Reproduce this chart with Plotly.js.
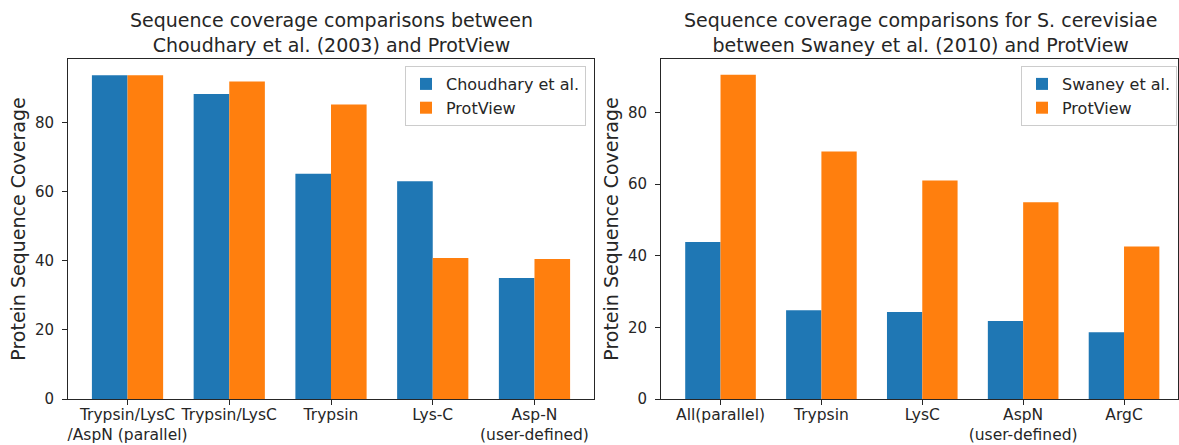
<!DOCTYPE html>
<html>
<head>
<meta charset="utf-8">
<script src="https://cdn.plot.ly/plotly-3.0.1.min.js"></script>
<style>html,body{margin:0;padding:0;background:#fff;}#chart{width:1179px;height:445px;}</style>
</head>
<body>
<div id="chart"></div>
<script>
// Left chart data
const leftCategories = ["Trypsin/LysC<br>/AspN (parallel)", "Trypsin/LysC", "Trypsin", "Lys-C", "Asp-N<br>(user-defined)"];
const choudharyValues = [93.7, 88.3, 65.2, 63.0, 35.0];
const protviewLeftValues = [93.7, 91.9, 85.2, 40.8, 40.5];

// Right chart data
const rightCategories = ["All(parallel)", "Trypsin", "LysC", "AspN<br>(user-defined)", "ArgC"];
const swaneyValues = [43.8, 24.8, 24.3, 21.8, 18.6];
const protviewRightValues = [90.5, 69.1, 61.0, 54.9, 42.6];

const yTicks = [0, 20, 40, 60, 80];

const leftTitle = "Sequence coverage comparisons between<br>Choudhary et al. (2003) and ProtView";
const rightTitle = "Sequence coverage comparisons for S. cerevisiae<br>between Swaney et al. (2010) and ProtView";
const yLabel = "Protein Sequence Coverage";

const W = 1179, H = 445;
const blue = "#1f77b4", orange = "#ff7f0e";
const font = "DejaVu Sans, sans-serif";
const ink = "#262626";

function idx(a){ return a.map((_, i) => i); }

const traces = [
  {type: "bar", x: idx(leftCategories), y: choudharyValues, name: "Choudhary et al.", marker: {color: blue}, xaxis: "x", yaxis: "y", legend: "legend", width: 0.35, offset: -0.35},
  {type: "bar", x: idx(leftCategories), y: protviewLeftValues, name: "ProtView", marker: {color: orange}, xaxis: "x", yaxis: "y", legend: "legend", width: 0.35, offset: 0},
  {type: "bar", x: idx(rightCategories), y: swaneyValues, name: "Swaney et al.", marker: {color: blue}, xaxis: "x2", yaxis: "y2", legend: "legend2", width: 0.35, offset: -0.35},
  {type: "bar", x: idx(rightCategories), y: protviewRightValues, name: "ProtView", marker: {color: orange}, xaxis: "x2", yaxis: "y2", legend: "legend2", width: 0.35, offset: 0}
];

const px = v => v / W, py = v => 1 - v / H;
const yDom = [py(399), py(59)];

const axisCommon = {
  showline: true, mirror: true, linecolor: ink, linewidth: 1,
  ticks: "outside", ticklen: 5, tickcolor: ink, tickwidth: 1,
  showgrid: false, zeroline: false, fixedrange: true
};
const xTickFont = {family: font, size: 15.5, color: ink};
const yTickFont = {family: font, size: 15, color: ink};
const yTitleFont = {family: font, size: 19, color: ink};

const legendCommon = {
  xanchor: "right", y: py(66), yanchor: "top",
  bgcolor: "rgba(255,255,255,0.8)", bordercolor: "#cccccc", borderwidth: 1,
  font: {family: font, size: 16, color: ink}, tracegroupgap: 0, itemwidth: 30
};

const layout = {
  width: W, height: H,
  margin: {l: 0, r: 0, t: 0, b: 0},
  paper_bgcolor: "#fff", plot_bgcolor: "#fff",
  showlegend: true,
  barmode: "overlay",
  font: {family: font, color: ink},
  xaxis: Object.assign({}, axisCommon, {domain: [px(68), px(594)], range: [-0.585, 4.585], tickvals: idx(leftCategories), ticktext: leftCategories, anchor: "y", tickfont: xTickFont, tickangle: 0, ticklabelstandoff: -4}),
  yaxis: Object.assign({}, axisCommon, {domain: yDom, range: [0, 98.4], tickvals: yTicks, anchor: "x", tickfont: yTickFont, ticklabelstandoff: 5,
    title: {text: yLabel, font: yTitleFont, standoff: 4}}),
  xaxis2: Object.assign({}, axisCommon, {domain: [px(661), px(1178)], range: [-0.59, 4.535], tickvals: idx(rightCategories), ticktext: rightCategories, anchor: "y2", tickfont: xTickFont, tickangle: 0, ticklabelstandoff: -4}),
  yaxis2: Object.assign({}, axisCommon, {domain: yDom, range: [0, 94.9], tickvals: yTicks, anchor: "x2", tickfont: yTickFont, ticklabelstandoff: 5,
    title: {text: yLabel, font: yTitleFont, standoff: 4}}),
  legend: Object.assign({}, legendCommon, {x: px(586)}),
  legend2: Object.assign({}, legendCommon, {x: px(1177)}),
  annotations: [
    {text: leftTitle, xref: "paper", yref: "paper", x: px(331), y: py(58), xanchor: "center", yanchor: "bottom", showarrow: false,
      font: {family: font, size: 19, color: ink}, align: "center"},
    {text: rightTitle, xref: "paper", yref: "paper", x: px(920), y: py(58), xanchor: "center", yanchor: "bottom", showarrow: false,
      font: {family: font, size: 19, color: ink}, align: "center"}
  ]
};

Plotly.newPlot("chart", traces, layout, {displayModeBar: false, staticPlot: true});
</script>
</body>
</html>
